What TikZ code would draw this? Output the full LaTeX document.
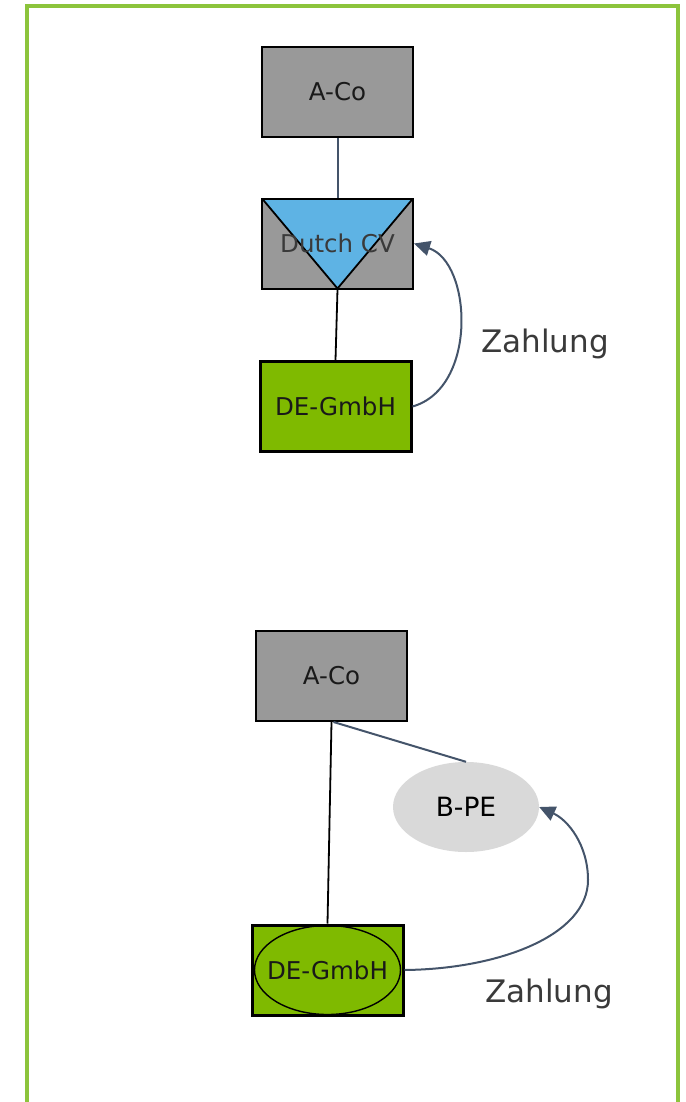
\documentclass[tikz,border=0pt]{standalone}
\usepackage{fontspec}
\setmainfont{DejaVu Sans}
\usetikzlibrary{arrows.meta,shapes.geometric}
\definecolor{boxgray}{HTML}{999999}
\definecolor{gmbhgreen}{HTML}{7FBA00}
\definecolor{cvblue}{HTML}{5EB3E4}
\definecolor{linkblue}{HTML}{44546A}
\definecolor{pegray}{HTML}{D9D9D9}
\definecolor{framegreen}{HTML}{8CC43C}
\definecolor{labelgray}{HTML}{3A3A3A}
\begin{document}
\begin{tikzpicture}[x=1pt,y=-1pt,
  every node/.style={font=\fontsize{24.5}{28}\selectfont, inner sep=0pt},
  entity/.style={rectangle, draw=black, line width=2pt, fill=boxgray,
    minimum width=151pt, minimum height=90pt, text=black!90},
  gmbh/.style={entity, fill=gmbhgreen, line width=3pt},
  pe/.style={ellipse, fill=pegray, minimum width=146pt, minimum height=90pt,
    font=\fontsize{26.5}{30}\selectfont},
  link/.style={draw=linkblue, line width=2pt},
  own/.style={draw=black, line width=1.8pt},
  pay/.style={draw=linkblue, line width=2pt, -{Triangle[length=16pt,width=15pt]}},
  paylabel/.style={font=\fontsize{31}{35}\selectfont, text=labelgray},
  frame/.style={draw=framegreen, line width=4pt}]
\useasboundingbox (0,0) rectangle (685,1102);
\draw[frame] (27,1102) -- (27,6) -- (678,6) -- (678,1102);

% upper structure
\node[entity] (ac1) at (337.5,92) {A-Co};
\node[entity, text=labelgray,
  path picture={\draw[fill=cvblue, line width=1.8pt]
    (path picture bounding box.north west) -- (path picture bounding box.north east)
    -- (path picture bounding box.south) -- cycle;}] (cv) at (337.5,243.5) {Dutch CV};
\node[gmbh] (dg1) at (335.5,406.5) {DE-GmbH};
\node[paylabel] (z1) at (545,344) {Zahlung};

\draw[link] (ac1.south) -- (cv.north);
\draw[own] (cv.south) -- (dg1.north);
\draw[pay] (dg1.east) .. controls (478,388) and (472,262) .. (cv.east);

% lower structure
\node[entity] (ac2) at (331.5,676) {A-Co};
\node[pe] (bpe) at (466,807) {B-PE};
\node[gmbh,
  path picture={\draw[black, line width=1.4pt] (path picture bounding box.center)
    ellipse [x radius=73, y radius=44.5];}] (dg2) at (327.5,970) {DE-GmbH};
\node[paylabel] (z2) at (549,994) {Zahlung};

\coordinate (bend) at (588,880);
\draw[own] (ac2.south) -- (dg2.north);
\draw[link] ([xshift=2pt]ac2.south) -- (bpe.north);
\draw[pay] (dg2.east) .. controls (500,969) and (588,935) .. (bend)
  .. controls (588,845) and (568,820) .. (bpe.east);
\end{tikzpicture}
\end{document}
